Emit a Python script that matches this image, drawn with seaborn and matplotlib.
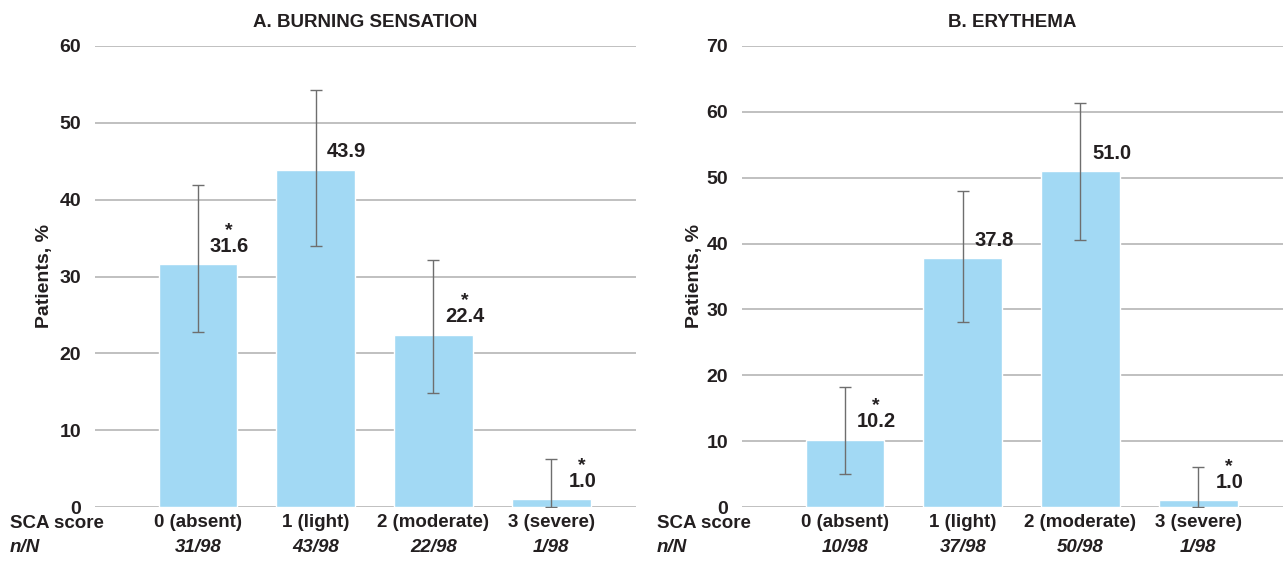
import matplotlib
matplotlib.use("Agg")
import matplotlib.pyplot as plt
import seaborn as sns
import pandas as pd

# ---- data ----
categories = ["0 (absent)", "1 (light)", "2 (moderate)", "3 (severe)"]
burning_values = [31.6, 43.9, 22.4, 1.0]
burning_low = [22.8, 34.0, 14.8, 0.0]
burning_high = [41.9, 54.3, 32.2, 6.2]
burning_nN = ["31/98", "43/98", "22/98", "1/98"]
burning_star = [True, False, True, True]

erythema_values = [10.2, 37.8, 51.0, 1.0]
erythema_low = [5.0, 28.1, 40.6, 0.0]
erythema_high = [18.2, 48.0, 61.4, 6.1]
erythema_nN = ["10/98", "37/98", "50/98", "1/98"]
erythema_star = [True, False, False, True]

titles = ["A. BURNING SENSATION", "B. ERYTHEMA"]
ylims = [60, 70]

sns.set_theme(style="white")
plt.rcParams["font.family"] = ["Liberation Sans", "DejaVu Sans"]
plt.rcParams["font.weight"] = "bold"

BAR = "#A2D9F4"
GRID = "#b5b5b5"
TXT = "#231f20"

W, H = 1283, 561
fig = plt.figure(figsize=(W / 100, H / 100), dpi=100)

panels = [
    (95, burning_values, burning_low, burning_high, burning_nN, burning_star, 45),
    (742, erythema_values, erythema_low, erythema_high, erythema_nN, erythema_star, 695),
]

for i, (x0, vals, lo, hi, nN, star, ylx) in enumerate(panels):
    ax = fig.add_axes([x0 / W, 54 / H, 541 / W, 461 / H])
    df = pd.DataFrame({"cat": categories, "val": vals})
    sns.barplot(data=df, x="cat", y="val", color=BAR, saturation=1,
                width=0.67, ax=ax, zorder=2)
    xs = list(range(len(categories)))
    yerr = [[v - l for v, l in zip(vals, lo)], [h - v for v, h in zip(vals, hi)]]
    ax.errorbar(xs, vals, yerr=yerr, fmt="none", ecolor="#6e6e6e",
                elinewidth=1.0, capsize=4, capthick=1.0, zorder=3)
    top = ylims[i]
    ax.set_ylim(0, top)
    ax.set_xlim(-0.875, 3.72)
    ax.set_yticks(range(0, top + 1, 10))
    ax.yaxis.grid(True, color=GRID, linewidth=1.2, zorder=0)
    ax.set_axisbelow(True)
    for s in ax.spines.values():
        s.set_visible(False)
    ax.tick_params(axis="y", length=0, pad=10, labelsize=14, labelcolor=TXT)
    for t in ax.get_yticklabels():
        t.set_fontweight("bold")
    ax.tick_params(axis="x", length=0, pad=5, labelsize=13.5, labelcolor=TXT)
    for t in ax.get_xticklabels():
        t.set_fontweight("bold")
    ax.set_xlabel("")
    ax.set_ylabel("Patients, %", fontsize=14, fontweight="bold", color=TXT)
    ax.yaxis.set_label_coords((ylx - x0) / 541, 0.5)
    ax.yaxis.label.set_va("center")
    ax.set_title(titles[i], fontsize=13.5, fontweight="bold", color=TXT, pad=14)
    for x, v, n, s in zip(xs, vals, nN, star):
        ax.annotate(f"{v:.1f}", (x, v), xytext=(31, 18), textcoords="offset pixels",
                    ha="center", va="center", fontsize=14.5, fontweight="bold", color=TXT)
        if s:
            ax.annotate("*", (x, v), xytext=(31, 34), textcoords="offset pixels",
                        ha="center", va="center", fontsize=14, fontweight="bold", color=TXT)
        ax.annotate(n, (x, 0), xytext=(0, -40), textcoords="offset pixels",
                    ha="center", va="center", fontsize=13.5, fontweight="bold",
                    style="italic", color=TXT, annotation_clip=False)
    fx = 10 if i == 0 else 657
    fig.text(fx / W, 1 - 524 / H, "SCA score", fontsize=13.5, fontweight="bold",
             color=TXT, ha="left", va="center")
    fig.text(fx / W, 1 - 547 / H, "n/N", fontsize=13.5, fontweight="bold",
             style="italic", color=TXT, ha="left", va="center")

fig.savefig("out.png", dpi=100)
